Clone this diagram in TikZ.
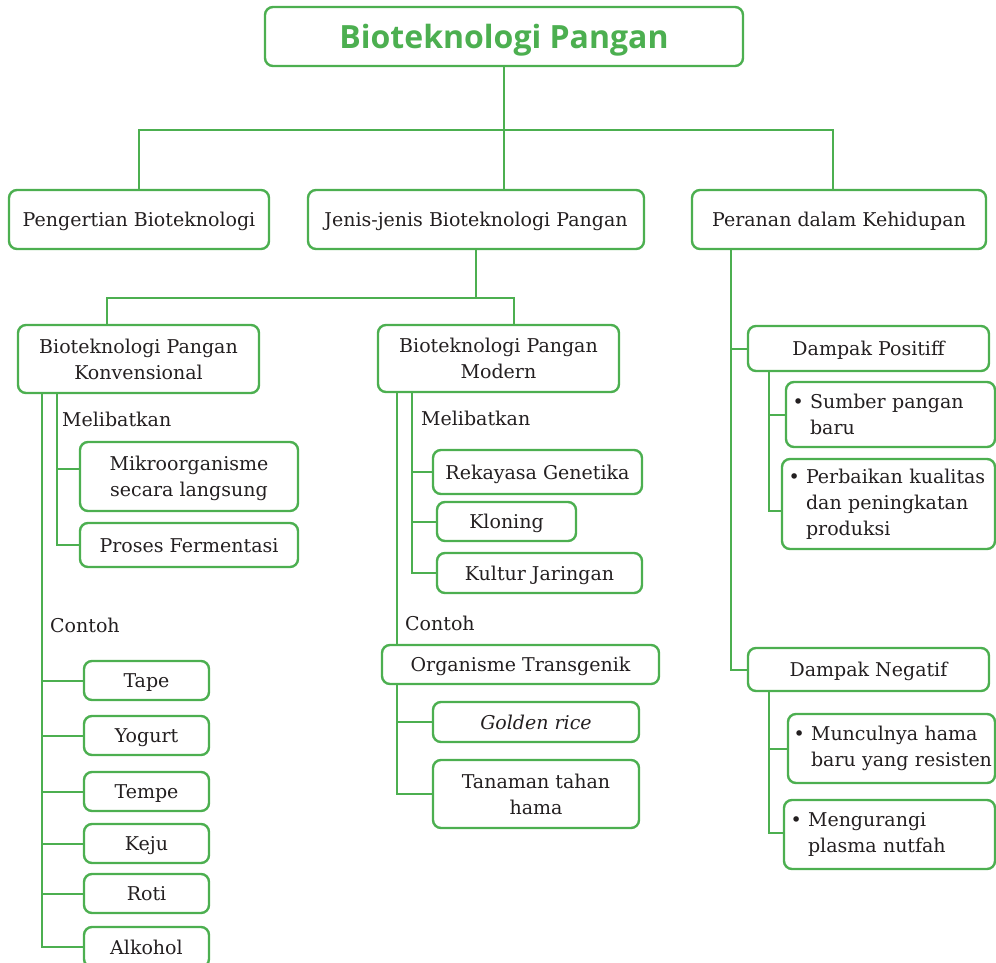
\documentclass[tikz,border=0pt]{standalone}
\usepackage{fontspec}
\setmainfont{DejaVu Serif}
\newfontfamily\titlefont{Open Sans}
\usetikzlibrary{calc}
\definecolor{gr}{HTML}{4CAF50}
\definecolor{tx}{HTML}{231F20}
\newcommand\mybox[7][]{\node[box,#1, minimum width={#5-#3}, minimum height={#6-#4}] (#2) at ({(#3+#5)/2},{(#4+#6)/2}) {#7};}
\newcommand\bl{\textbullet~}
\newcommand\bi{\hphantom{\textbullet~}}
\begin{document}
\begin{tikzpicture}[x=1pt,y=-1pt,
  box/.style={draw=gr, line width=2.4pt, rounded corners=8pt, inner sep=0pt, text=tx,
    font=\fontsize{19}{26}\selectfont, align=center, text depth=0pt},
  bul/.style={align=left, text width=#1, text depth=},
  conn/.style={draw=gr, line width=2pt},
  lbl/.style={text=tx, font=\fontsize{19}{26}\selectfont, anchor=west, inner sep=0pt}]
\useasboundingbox (0,0) rectangle (996,962);
% title and first row
\mybox[font=\titlefont\bfseries\fontsize{32}{36}\selectfont, text=gr]{t}{265}{7}{743}{66}{Bioteknologi Pangan}
\mybox{pen}{9}{190}{269}{249}{Pengertian Bioteknologi}
\mybox{jen}{308}{190}{644}{249}{Jenis-jenis Bioteknologi Pangan}
\mybox{per}{692}{190}{986}{249}{Peranan dalam Kehidupan}
% second level
\mybox{konv}{18}{325}{259}{393}{Bioteknologi Pangan\\Konvensional}
\mybox{mik}{80}{442}{298}{511}{Mikroorganisme\\secara langsung}
\mybox{fer}{80}{523}{298}{567}{Proses Fermentasi}
\mybox{tape}{84}{661}{209}{700}{Tape}
\mybox{yog}{84}{716}{209}{755}{Yogurt}
\mybox{tem}{84}{772}{209}{811}{Tempe}
\mybox{keju}{84}{824}{209}{863}{Keju}
\mybox{roti}{84}{874}{209}{913}{Roti}
\mybox{alk}{84}{927}{209}{967}{Alkohol}
\mybox{mod}{378}{325}{619}{392}{Bioteknologi Pangan\\Modern}
\mybox{rek}{433}{450}{642}{494}{Rekayasa Genetika}
\mybox{klo}{437}{502}{576}{541}{Kloning}
\mybox{kul}{437}{553}{642}{593}{Kultur Jaringan}
\mybox{org}{382}{645}{659}{684}{Organisme Transgenik}
\mybox{gold}{433}{702}{639}{742}{\itshape Golden rice}
\mybox{tan}{433}{760}{639}{828}{Tanaman tahan\\hama}
\mybox{dp}{748}{326}{989}{371}{Dampak Positiff}
\mybox[bul=196pt]{sum}{786}{382}{995}{447}{\mbox{\bl Sumber pangan}\\\mbox{\bi baru}}
\mybox[bul=200pt]{perb}{782}{459}{995}{549}{\mbox{\bl Perbaikan kualitas}\\\mbox{\bi dan peningkatan}\\\mbox{\bi produksi}}
\mybox{dn}{748}{648}{989}{691}{Dampak Negatif}
\mybox[bul=196pt]{mun}{788}{714}{995}{783}{\mbox{\bl Munculnya hama}\\\mbox{\bi baru yang resisten}}
\mybox[bul=198pt]{men}{784}{800}{995}{869}{\mbox{\bl Mengurangi}\\\mbox{\bi plasma nutfah}}
% labels
\node[lbl] (l1) at (62,419) {Melibatkan};
\node[lbl] (l2) at (50,625) {Contoh};
\node[lbl] (l3) at (421,418) {Melibatkan};
\node[lbl] (l4) at (405,623) {Contoh};
% helper coordinates
\coordinate (h2) at (833,130);
\coordinate (j1) at (107,298);
\coordinate (j2) at (514,298);
\coordinate (kL) at (42,0);
\coordinate (kM) at (57,0);
\coordinate (mL) at (397,0);
\coordinate (mM) at (412,0);
\coordinate (pL) at (731,0);
\coordinate (pM) at (769,0);
% connectors
\draw[conn] (t.south) -- (t.south |- jen.north);
\draw[conn] (pen.north) |- (h2) -- (h2 |- per.north);
\draw[conn] (jen.south) -- (jen.south |- j1);
\draw[conn] (j1 |- konv.north) |- (j2) -- (j2 |- mod.north);
\draw[conn] (konv.south -| kL) |- (alk.west);
\foreach \n in {tape,yog,tem,keju,roti} \draw[conn] (\n.west) -- (\n.west -| kL);
\draw[conn] (konv.south -| kM) |- (fer.west);
\draw[conn] ($(mik.west)+(0,-8)$) -- ($(mik.west -| kM)+(0,-8)$);
\draw[conn] (mod.south -| mL) -- (org.north -| mL);
\draw[conn] (mod.south -| mM) |- (kul.west);
\foreach \n in {rek,klo} \draw[conn] (\n.west) -- (\n.west -| mM);
\draw[conn] (org.south -| mL) |- (tan.west);
\draw[conn] (gold.west) -- (gold.west -| mL);
\draw[conn] (per.south -| pL) |- (dn.west);
\draw[conn] (dp.west) -- (dp.west -| pL);
\draw[conn] (dp.south -| pM) |- ($(perb.west)+(0,7)$);
\draw[conn] (sum.west) -- (sum.west -| pM);
\draw[conn] (dn.south -| pM) |- ($(men.west)+(0,-2)$);
\draw[conn] (mun.west) -- (mun.west -| pM);
\end{tikzpicture}
\end{document}
